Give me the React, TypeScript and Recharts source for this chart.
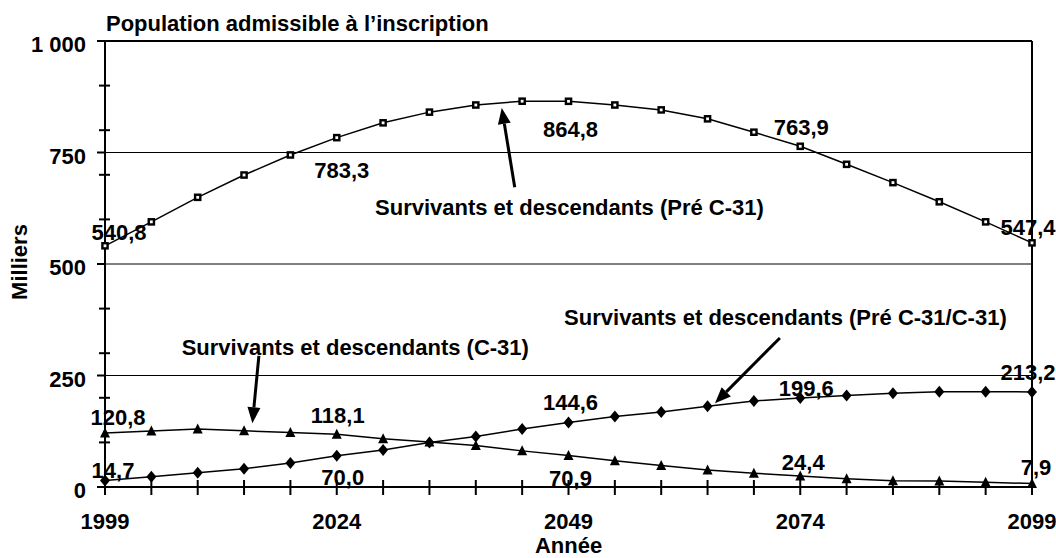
import React from 'react';
import { LineChart, Line, XAxis, YAxis, ReferenceLine, ReferenceDot } from 'recharts';

const years = [1999, 2004, 2009, 2014, 2019, 2024, 2029, 2034, 2039, 2044, 2049, 2054, 2059, 2064, 2069, 2074, 2079, 2084, 2089, 2094, 2099];
const preC31 = [540.8, 594.5, 649.5, 699.5, 744.5, 783.3, 816.5, 840.5, 856.5, 865, 864.8, 856.5, 845.5, 825.5, 795.5, 763.9, 723.5, 682.5, 639.5, 594.5, 547.4];
const c31 = [120.8, 125.6, 130, 126, 122, 118.1, 108, 101, 93, 81, 70.9, 59, 48, 38, 31, 24.4, 18.6, 14, 13.5, 10.5, 7.9];
const mixed = [14.7, 23, 32, 41, 54, 70.0, 83, 100, 113, 130, 144.6, 158, 168, 181, 193, 199.6, 205, 210, 213.5, 213.5, 213.2];

const xTicks = [1999, 2004, 2009, 2014, 2019, 2024, 2029, 2034, 2039, 2044, 2049, 2054, 2059, 2064, 2069, 2074, 2079, 2084, 2089, 2094, 2099];
const xLabelTicks = [1999, 2024, 2049, 2074, 2099];
const yTicks = [0, 100, 200, 250, 300, 400, 500, 600, 700, 750, 800, 900, 1000];
const yLabelTicks = [0, 250, 500, 750, 1000];
const yLabelText = ['0', '250', '500', '750', '1 000'];
const gridValues = [250, 500, 750];
const labeledIndices = [0, 5, 10, 15, 20];

const TITLE = 'Population admissible à l\u2019inscription';
const annoPre = 'Survivants et descendants (Pré C-31)';
const annoC31 = 'Survivants et descendants (C-31)';
const annoMixed = 'Survivants et descendants (Pré C-31/C-31)';

const data = years.map((y, i) => ({ year: y, pre: preC31[i], c31: c31[i], mixed: mixed[i] }));

const FONT = "'Liberation Sans', Arial, sans-serif";
const FS = 22;

// label offsets (style) per series, per labeled index
const preOffsets: Record<number, [number, number]> = { 0: [14, -14], 5: [5, 32], 10: [2, 28], 15: [1, -19], 20: [-4, -16] };
const c31Offsets: Record<number, [number, number]> = { 0: [13, -16], 5: [1, -19], 10: [2, 23], 15: [3, -14], 20: [4, -16] };
const mixedOffsets: Record<number, [number, number]> = { 0: [8, -10], 5: [6, 21], 10: [2, -20], 15: [6, -10], 20: [-4, -20] };

const fmt = (v: number) => v.toFixed(1).replace('.', ',');

const makeLabel = (offsets: Record<number, [number, number]>) => (p: any) => {
  const { x, y, value, index } = p;
  if (!labeledIndices.includes(index)) return null;
  const [dx, dy] = offsets[index];
  return (
    <text key={`l${index}`} x={x + dx} y={y + dy} dy="0.36em" textAnchor="middle" fontFamily={FONT} fontWeight="bold" fontSize={FS} fill="#000">
      {fmt(value)}
    </text>
  );
};

const SquareDot = (p: any) => {
  const { cx, cy, index } = p;
  return <rect key={`s${index}`} x={cx - 2.6} y={cy - 2.6} width={5.2} height={5.2} fill="#fff" stroke="#000" strokeWidth={2.4} />;
};
const DiamondDot = (p: any) => {
  const { cx, cy, index } = p;
  return <polygon key={`d${index}`} points={`${cx},${cy - 6} ${cx + 5},${cy} ${cx},${cy + 6} ${cx - 5},${cy}`} fill="#000" />;
};
const TriangleDot = (p: any) => {
  const { cx, cy, index } = p;
  return <polygon key={`t${index}`} points={`${cx},${cy - 5.5} ${cx + 5},${cy + 4.5} ${cx - 5},${cy + 4.5}`} fill="#000" />;
};

const XTick = (p: any) => {
  const { x, y, payload } = p;
  const v = payload.value;
  return (
    <g>
      <line x1={x} x2={x} y1={y - 7} y2={y + 8} stroke="#000" strokeWidth={2} />
      {xLabelTicks.includes(v) && (
        <text x={x} y={y + 41.5} textAnchor="middle" fontFamily={FONT} fontWeight="bold" fontSize={FS} fill="#000">{v}</text>
      )}
    </g>
  );
};

const YTick = (p: any) => {
  const { x, y, payload } = p;
  const v = payload.value;
  const li = yLabelTicks.indexOf(v);
  if (li >= 0) {
    return (
      <g>
        <line x1={x - 8} x2={x} y1={y} y2={y} stroke="#000" strokeWidth={2} />
        <text x={x - 19} y={y + 11} textAnchor="end" fontFamily={FONT} fontWeight="bold" fontSize={FS} fill="#000">{yLabelText[li]}</text>
      </g>
    );
  }
  return <line x1={x - 6} x2={x + 5} y1={y} y2={y} stroke="#000" strokeWidth={2} />;
};

const Arrow = (p: any) => {
  const { x1, y1, x2, y2 } = p;
  const dx = x2 - x1, dy = y2 - y1;
  const len = Math.sqrt(dx * dx + dy * dy);
  const ux = dx / len, uy = dy / len;
  const hl = 16, hw = 6.5;
  const bx = x2 - ux * hl, by = y2 - uy * hl;
  const px = -uy, py = ux;
  return (
    <g>
      <line x1={x1} y1={y1} x2={bx} y2={by} stroke="#000" strokeWidth={3} />
      <polygon points={`${x2},${y2} ${bx + px * hw},${by + py * hw} ${bx - px * hw},${by - py * hw}`} fill="#000" />
    </g>
  );
};

const annoText = (text: string) => (p: any) => (
  <text x={p.cx} y={p.cy} textAnchor="middle" fontFamily={FONT} fontWeight="bold" fontSize={FS} fill="#000">{text}</text>
);

export default function App() {
  return (
    <div style={{ position: 'absolute', left: 0, top: 0, width: 1056, height: 558, background: '#fff' }}>
      <div style={{ position: 'absolute', left: 106, top: 12.5, fontFamily: FONT, fontWeight: 'bold', fontSize: FS, lineHeight: '22px', whiteSpace: 'nowrap' }}>
        {TITLE}
      </div>
      <LineChart width={1056} height={558} data={data} margin={{ top: 41, right: 24, left: 0, bottom: 0 }}>
        <XAxis
          dataKey="year"
          type="number"
          domain={[1999, 2099]}
          ticks={xTicks}
          interval={0}
          tickSize={0}
          tickMargin={0}
          tickLine={false}
          height={71}
          axisLine={{ stroke: '#000', strokeWidth: 2 }}
          tick={<XTick />}
          label={{
            content: (p: any) => {
              const vb = p.viewBox;
              return <text x={vb.x + vb.width / 2} y={vb.y + 66} textAnchor="middle" fontFamily={FONT} fontWeight="bold" fontSize={FS} fill="#000">Année</text>;
            },
          }}
        />
        <YAxis
          type="number"
          domain={[0, 1000]}
          ticks={yTicks}
          interval={0}
          tickSize={0}
          tickMargin={0}
          tickLine={false}
          width={105}
          axisLine={{ stroke: '#000', strokeWidth: 2 }}
          tick={<YTick />}
          label={{
            content: (p: any) => {
              const vb = p.viewBox;
              const cx = vb.x + 19, cy = vb.y + vb.height / 2 - 2;
              return <text x={cx} y={cy} transform={`rotate(-90 ${cx} ${cy})`} dy="0.36em" textAnchor="middle" fontFamily={FONT} fontWeight="bold" fontSize={FS} fill="#000">Milliers</text>;
            },
          }}
        />
        {gridValues.map((g) => (
          <ReferenceLine key={g} y={g} stroke="#000" strokeWidth={1} />
        ))}
        <ReferenceLine y={1000} stroke="#000" strokeWidth={2} />
        <ReferenceLine x={2099} stroke="#000" strokeWidth={2} />

        <ReferenceLine segment={[{ x: 2043.2, y: 672 }, { x: 2041.8, y: 850 }]} shape={Arrow} />
        <ReferenceLine segment={[{ x: 2015.6, y: 294 }, { x: 2014.9, y: 143 }]} shape={Arrow} />
        <ReferenceLine segment={[{ x: 2071.8, y: 334 }, { x: 2064.8, y: 188 }]} shape={Arrow} />
        <ReferenceDot x={2049.1} y={610} r={0} shape={annoText(annoPre)} />
        <ReferenceDot x={2026} y={296} r={0} shape={annoText(annoC31)} />
        <ReferenceDot x={2072.4} y={363} r={0} shape={annoText(annoMixed)} />

        <Line dataKey="pre" stroke="#000" strokeWidth={1.5} dot={SquareDot} label={makeLabel(preOffsets)} isAnimationActive={false} />
        <Line dataKey="c31" stroke="#000" strokeWidth={1.5} dot={TriangleDot} label={makeLabel(c31Offsets)} isAnimationActive={false} />
        <Line dataKey="mixed" stroke="#000" strokeWidth={1.5} dot={DiamondDot} label={makeLabel(mixedOffsets)} isAnimationActive={false} />
      </LineChart>
    </div>
  );
}
